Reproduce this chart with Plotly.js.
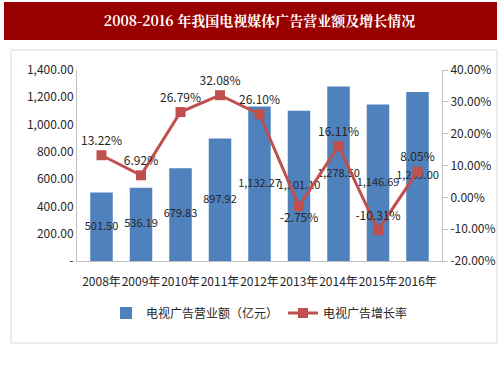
<!DOCTYPE html>
<html><head><meta charset="utf-8">
<script src="https://cdn.plot.ly/plotly-3.0.1.min.js"></script>
<style>html,body{margin:0;padding:0;background:#fff}#c{width:503px;height:378px}</style>
</head><body><div id="c"></div>
<script>
const years = ['2008年','2009年','2010年','2011年','2012年','2013年','2014年','2015年','2016年'];
const revenue = [501.50, 536.19, 679.83, 897.92, 1132.27, 1101.10, 1278.50, 1146.69, 1239.00];
const growth = [13.22, 6.92, 26.79, 32.08, 26.10, -2.75, 16.11, -10.31, 8.05];
const growthPos = ['top center','top center','top center','top center','top center','bottom center','top center','top center','top center'];
const leftTicks = [0,200,400,600,800,1000,1200,1400];
const leftTickText = ['-','200.00','400.00','600.00','800.00','1,000.00','1,200.00','1,400.00'];
const rightTicks = [-20,-10,0,10,20,30,40];
const rightTickText = ['-20.00%','-10.00%','0.00%','10.00%','20.00%','30.00%','40.00%'];
const revName = '电视广告营业额（亿元）';
const growthName = '电视广告增长率';

const FONT = 'Liberation Sans Narrow, Noto Sans CJK SC, sans-serif';
const fmt = v => v.toLocaleString('en-US',{minimumFractionDigits:2,maximumFractionDigits:2});

const traces = [
  {type:'bar', x:years, y:revenue, name:revName, marker:{color:'#4F81BD'}, hoverinfo:'skip'},
  {type:'scatter', mode:'text', x:years, y:revenue.map(v=>v/2), text:revenue.map(fmt),
   textposition:'middle center', textfont:{size:11,color:'#262626',family:FONT}, showlegend:false, hoverinfo:'skip'},
  {type:'scatter', mode:'lines+markers+text', x:years, y:growth, yaxis:'y2', name:growthName,
   line:{color:'#C0504D',width:3}, marker:{symbol:'square',size:10,color:'#C0504D'},
   text:growth.map(v=>v.toFixed(2)+'%'), textposition:growthPos,
   textfont:{size:12,color:'#262626',family:FONT}, hoverinfo:'skip'}
];

const px2x = p => (p-77)/365, px2y = p => (261-p)/191;
const layout = {
  width:503, height:378,
  margin:{l:77, r:61, t:70, b:117},
  paper_bgcolor:'rgba(0,0,0,0)', plot_bgcolor:'rgba(0,0,0,0)',
  font:{family:FONT, size:12, color:'#262626'},
  showlegend:true,
  bargap:0.43,
  title:{text:'<b>2008-2016 年我国电视媒体广告营业额及增长情况</b>', x:0.5, xref:'paper', xanchor:'center',
    y:1-21/378, yref:'container', yanchor:'middle',
    font:{family:'Noto Serif CJK SC, Noto Sans CJK SC, serif', size:14, color:'#ffffff'}},
  xaxis:{type:'category', showline:true, linecolor:'#BFBFBF', linewidth:1, ticks:'', showgrid:false, tickangle:0,
    ticklabelstandoff:10,
    tickfont:{size:12,family:FONT,color:'#262626'}, fixedrange:true},
  yaxis:{range:[0,1400], tickvals:leftTicks, ticktext:leftTickText, showline:true, linecolor:'#BFBFBF',
    showgrid:false, zeroline:false, ticks:'', tickfont:{size:12,family:FONT,color:'#262626'}, fixedrange:true},
  yaxis2:{range:[-20,40], overlaying:'y', side:'right', tickvals:rightTicks, ticktext:rightTickText,
    showline:true, linecolor:'#BFBFBF', showgrid:false, zeroline:false, ticks:'outside', ticklen:5, tickcolor:'#BFBFBF',
    tickfont:{size:12,family:FONT,color:'#262626'}, fixedrange:true},
  legend:{orientation:'h', x:0.5, xanchor:'center', y:px2y(313), yanchor:'middle',
    font:{size:12,family:'Noto Sans CJK SC, sans-serif',color:'#262626'}, traceorder:'normal'},
  shapes:[
    {type:'rect', xref:'paper', yref:'paper', x0:px2x(4), x1:px2x(497), y0:px2y(40), y1:px2y(2),
     fillcolor:'#990000', line:{width:0}, layer:'below'},
    {type:'rect', xref:'paper', yref:'paper', x0:px2x(11), x1:px2x(497), y0:px2y(343), y1:px2y(50),
     fillcolor:'rgba(0,0,0,0)', line:{width:1,color:'#D9D9D9'}, layer:'below'}
  ]
};
Plotly.newPlot('c', traces, layout, {displayModeBar:false, staticPlot:true});
</script></body></html>
